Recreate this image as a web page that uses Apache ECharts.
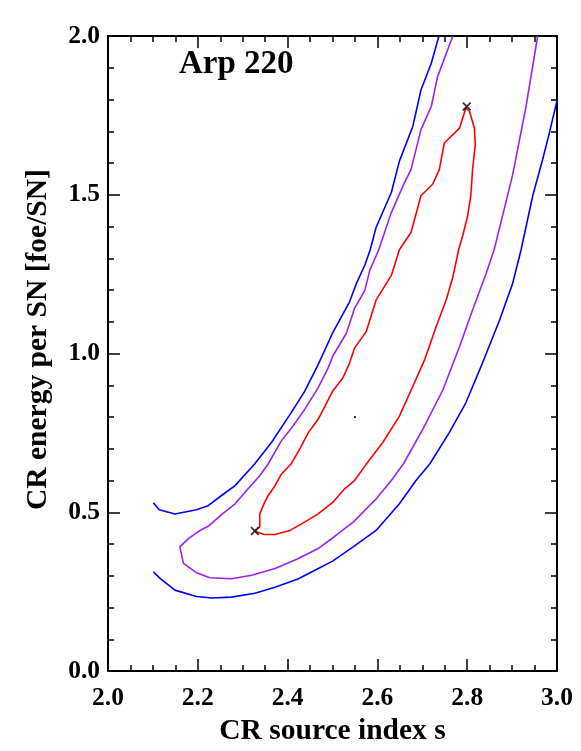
<!DOCTYPE html>
<html>
<head>
<meta charset="utf-8">
<script src="https://cdn.jsdelivr.net/npm/echarts@6/dist/echarts.min.js"></script>
<style>
  html, body { margin: 0; padding: 0; background: #fff; }
  #main { width: 581px; height: 751px; }
</style>
</head>
<body>
<div id="main"></div>
<script>
// contour lines, [s, energy] pairs
var blueUpper = [
    [2.101, 0.530], [2.114, 0.508], [2.149, 0.495], [2.197, 0.508], [2.223, 0.521],
    [2.253, 0.553], [2.283, 0.584], [2.327, 0.653], [2.364, 0.720], [2.408, 0.814],
    [2.438, 0.881], [2.468, 0.965], [2.500, 1.064], [2.538, 1.163], [2.553, 1.220],
    [2.572, 1.278], [2.584, 1.327], [2.597, 1.397], [2.631, 1.507], [2.649, 1.606],
    [2.679, 1.716], [2.697, 1.830], [2.720, 1.914], [2.737, 2.000]
];
var blueLower = [
    [2.101, 0.313], [2.116, 0.292], [2.149, 0.255], [2.197, 0.235], [2.231, 0.230],
    [2.275, 0.233], [2.327, 0.245], [2.372, 0.264], [2.423, 0.290], [2.475, 0.328],
    [2.501, 0.347], [2.546, 0.391], [2.597, 0.443], [2.649, 0.527], [2.686, 0.600],
    [2.717, 0.653], [2.760, 0.751], [2.797, 0.845], [2.834, 0.970], [2.872, 1.105],
    [2.901, 1.220], [2.920, 1.327], [2.946, 1.497], [2.968, 1.611], [2.983, 1.695],
    [3.000, 1.796]
];
var purpleLine = [
    [2.768, 2.000], [2.734, 1.872], [2.720, 1.778], [2.697, 1.705], [2.675, 1.580],
    [2.657, 1.528], [2.631, 1.444], [2.603, 1.327], [2.583, 1.262], [2.572, 1.199],
    [2.549, 1.142], [2.531, 1.064], [2.501, 0.993], [2.490, 0.954], [2.468, 0.892],
    [2.438, 0.824], [2.412, 0.772], [2.386, 0.725], [2.357, 0.653], [2.338, 0.615],
    [2.312, 0.574], [2.283, 0.527], [2.253, 0.493], [2.223, 0.456], [2.205, 0.443],
    [2.179, 0.417], [2.160, 0.391], [2.168, 0.339], [2.197, 0.310], [2.227, 0.294],
    [2.275, 0.291], [2.320, 0.302], [2.372, 0.323], [2.423, 0.354], [2.468, 0.386],
    [2.501, 0.420], [2.546, 0.469], [2.597, 0.542], [2.631, 0.600], [2.658, 0.653],
    [2.701, 0.761], [2.746, 0.886], [2.783, 1.022], [2.812, 1.137], [2.842, 1.251],
    [2.860, 1.327], [2.901, 1.561], [2.931, 1.778], [2.957, 2.000]
];
var redLoop = [
    [2.327, 0.441], [2.338, 0.454], [2.338, 0.495], [2.349, 0.532], [2.357, 0.553],
    [2.372, 0.584], [2.386, 0.620], [2.408, 0.653], [2.427, 0.699], [2.446, 0.751],
    [2.468, 0.793], [2.483, 0.834], [2.500, 0.881], [2.523, 0.923], [2.538, 0.970],
    [2.549, 1.017], [2.575, 1.069], [2.597, 1.168], [2.631, 1.246], [2.649, 1.327],
    [2.675, 1.382], [2.697, 1.497], [2.723, 1.533], [2.738, 1.580], [2.749, 1.663],
    [2.783, 1.710], [2.797, 1.773], [2.799, 1.778], [2.805, 1.763], [2.816, 1.710],
    [2.818, 1.658], [2.812, 1.580], [2.808, 1.497], [2.801, 1.434], [2.790, 1.371],
    [2.781, 1.327], [2.768, 1.241], [2.753, 1.168], [2.731, 1.085], [2.705, 0.980],
    [2.679, 0.897], [2.649, 0.803], [2.612, 0.720], [2.577, 0.655], [2.549, 0.600],
    [2.527, 0.574], [2.501, 0.532], [2.468, 0.495], [2.438, 0.469], [2.405, 0.443],
    [2.372, 0.430], [2.349, 0.430], [2.331, 0.438], [2.327, 0.441]
];
var crossMarks = [[2.327, 0.441], [2.799, 1.778]];
var bestDot = [[2.55, 0.80]];

var serif = '"Liberation Serif", "DejaVu Serif", serif';
var crossPath = 'path://M0,1.4L1.4,0L5,3.6L8.6,0L10,1.4L6.4,5L10,8.6L8.6,10L5,6.4L1.4,10L0,8.6L3.6,5Z';

function boxAxis(pos, min, max, interval, minorSplit, showLabels, extra) {
    var ax = {
        type: 'value',
        position: pos,
        min: min,
        max: max,
        interval: interval,
        axisLine: { show: true, onZero: false, lineStyle: { color: '#000', width: 2 } },
        axisTick: { show: true, inside: true, length: 12, lineStyle: { color: '#000', width: 1.5 } },
        minorTick: { show: true, splitNumber: minorSplit, length: 6, lineStyle: { color: '#000', width: 1.5 } },
        splitLine: { show: false },
        axisLabel: {
            show: showLabels,
            color: '#000',
            fontFamily: serif,
            fontWeight: 'bold',
            fontSize: 25,
            formatter: function (v) { return v.toFixed(1); }
        }
    };
    return Object.assign(ax, extra || {});
}

function contour(data, color) {
    return {
        type: 'line',
        data: data,
        showSymbol: false,
        silent: true,
        lineStyle: { color: color, width: 1.6 },
        z: 3
    };
}

var chart = echarts.init(document.getElementById('main'));
chart.setOption({
    animation: false,
    backgroundColor: '#fff',
    title: {
        text: 'Arp 220',
        left: 174,
        top: 43,
        textStyle: { fontFamily: serif, fontWeight: 'bold', fontSize: 33, color: '#000' }
    },
    grid: { left: 108, right: 24, top: 36, bottom: 76 },
    xAxis: [
        boxAxis('bottom', 2.0, 3.0, 0.2, 4, true, {
            name: 'CR source index s',
            nameLocation: 'middle',
            nameGap: 37,
            nameTextStyle: { fontFamily: serif, fontWeight: 'bold', fontSize: 29.5, color: '#000' },
            axisLabel: {
                color: '#000', fontFamily: serif, fontWeight: 'bold', fontSize: 25.5, margin: 14,
                formatter: function (v) { return v.toFixed(1); }
            }
        }),
        boxAxis('top', 2.0, 3.0, 0.2, 4, false)
    ],
    yAxis: [
        boxAxis('left', 0.0, 2.0, 0.5, 5, true, {
            name: 'CR energy per SN [foe/SN]',
            nameLocation: 'middle',
            nameGap: 55,
            nameTextStyle: {
                fontFamily: serif, fontWeight: 'bold', fontSize: 29.5, color: '#000',
                padding: [0, 0, 0, 28]
            },
            axisLabel: {
                color: '#000', fontFamily: serif, fontWeight: 'bold', fontSize: 25.5, margin: 8,
                formatter: function (v) { return v.toFixed(1); }
            }
        }),
        boxAxis('right', 0.0, 2.0, 0.5, 5, false)
    ],
    series: [
        contour(blueUpper, '#0000ff'),
        contour(blueLower, '#0000ff'),
        contour(purpleLine, '#a020f0'),
        contour(redLoop, '#ff0000'),
        {
            type: 'scatter',
            data: crossMarks,
            symbol: crossPath,
            symbolSize: 9,
            itemStyle: { color: '#000' },
            silent: true,
            z: 5
        },
        {
            type: 'scatter',
            data: bestDot,
            symbol: 'rect',
            symbolSize: 2,
            itemStyle: { color: '#000' },
            silent: true,
            z: 5
        }
    ]
});
</script>
</body>
</html>
